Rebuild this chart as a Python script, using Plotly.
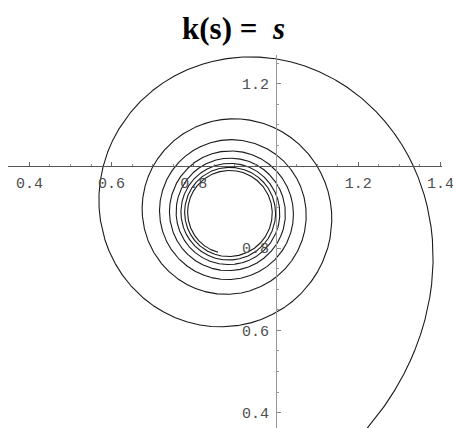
import numpy as np
import plotly.graph_objects as go

# Arc-length interval of the curve and the curvature law k(s) = s
s_start = 0.0
s_end = 10.0
n_samples = 40001

# Axis tick values
x_tick_labels = [0.4, 0.6, 0.8, 1.2, 1.4]
y_tick_labels = [0.4, 0.6, 0.8, 1.2]


def curvature(s):
    return s


# Integrate the plane curve from its curvature: theta' = k, x' = cos theta, y' = sin theta
s = np.linspace(s_start, s_end, n_samples)
k = curvature(s)
ds = np.diff(s)
theta = np.concatenate([[0.0], np.cumsum(0.5 * (k[1:] + k[:-1]) * ds)])
cx, sy = np.cos(theta), np.sin(theta)
x = np.concatenate([[0.0], np.cumsum(0.5 * (cx[1:] + cx[:-1]) * ds)])
y = np.concatenate([[0.0], np.cumsum(0.5 * (sy[1:] + sy[:-1]) * ds)])

W, H = 453, 428
scale = 411.0           # pixels per unit, equal on both axes
origin_px = (276, 166)  # pixel location of the axes crossing (1, 1)
ml, mr, mt, mb = 8, 11, 55, 0

x_rng = [1 - (origin_px[0] - ml) / scale, 1 + (W - mr - origin_px[0]) / scale]
y_rng = [1 - (H - mb - origin_px[1]) / scale, 1 + (origin_px[1] - mt) / scale]
x_axis_pos = (1 - y_rng[0]) / (y_rng[1] - y_rng[0])
y_axis_pos = (1 - x_rng[0]) / (x_rng[1] - x_rng[0])

fig = go.Figure()
fig.add_trace(go.Scatter(
    x=x, y=y, mode="lines",
    line=dict(color="#1a1a1a", width=1.1),
    hoverinfo="skip", showlegend=False,
))

tick_font = dict(family="Liberation Mono, Courier New, monospace", size=15, color="#4d4d4d")

fig.update_layout(
    width=W, height=H,
    margin=dict(l=ml, r=mr, t=mt, b=mb),
    paper_bgcolor="white", plot_bgcolor="white",
    title=dict(
        text="<b>k(s) =  <i>s</i></b>",
        font=dict(family="Liberation Serif, Times New Roman, serif", size=31, color="black"),
        x=0.5 + 7 / W, xref="container", xanchor="center",
        y=1 - 28 / H, yref="container", yanchor="middle",
    ),
    xaxis=dict(
        range=x_rng, anchor="free", position=x_axis_pos,
        showgrid=False, zeroline=False,
        showline=True, linecolor="#555555", linewidth=1,
        tickmode="array", tickvals=x_tick_labels,
        ticktext=[f"{v:.1f}" for v in x_tick_labels],
        ticks="inside", ticklen=4, tickcolor="#666666", tickwidth=1,
        ticklabelstandoff=3, ticklabeloverflow="allow",
        tickfont=tick_font,
        minor=dict(tickmode="linear", tick0=0, dtick=0.05, ticks="inside",
                   ticklen=2, tickcolor="#888888", showgrid=False),
    ),
    yaxis=dict(
        range=y_rng, anchor="free", position=y_axis_pos,
        showgrid=False, zeroline=False,
        showline=True, linecolor="#999999", linewidth=1,
        tickmode="array", tickvals=y_tick_labels,
        ticktext=[f"{v:.1f}" for v in y_tick_labels],
        ticks="inside", ticklen=4, tickcolor="#888888", tickwidth=1,
        ticklabelstandoff=4, ticklabeloverflow="allow",
        tickfont=tick_font,
        minor=dict(tickmode="linear", tick0=0, dtick=0.05, ticks="inside",
                   ticklen=2, tickcolor="#999999", showgrid=False),
    ),
)

fig.write_html("out.html")
